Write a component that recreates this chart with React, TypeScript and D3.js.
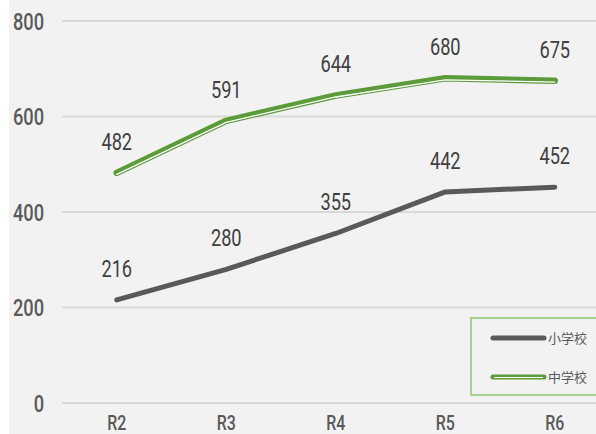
import * as React from "react";
import * as d3 from "d3";

const categories = ["R2", "R3", "R4", "R5", "R6"];
const elementary = [216, 280, 355, 442, 452];
const juniorHigh = [482, 591, 644, 680, 675];
const yTicks = [0, 200, 400, 600, 800];
const seriesNames = ["小学校", "中学校"];

const W = 596;
const H = 434;
const FONT = "Roboto, sans-serif";
const SQUEEZE = 0.76;

// condensed-looking text: squeeze horizontally around its anchor point
function Narrow(props: {
  x: number;
  y: number;
  anchor: string;
  size: number;
  fill: string;
  weight?: number;
  children: React.ReactNode;
}) {
  return (
    <text
      transform={`translate(${props.x},${props.y}) scale(${SQUEEZE},1)`}
      textAnchor={props.anchor}
      fontSize={props.size}
      fill={props.fill}
      fontWeight={props.weight ?? 400}
      fontFamily={FONT}
    >
      {props.children}
    </text>
  );
}

export default function App() {
  const x = d3.scaleBand().domain(categories).range([62, 609.5]);
  const y = d3.scaleLinear().domain([0, 800]).range([403, 21]);
  const cx = (c: string) => x(c)! + x.bandwidth() / 2;

  const line = d3
    .line<number>()
    .x((_, i) => cx(categories[i]))
    .y((d) => y(d));

  const grayPath = line(elementary)!;
  const greenPath = line(juniorHigh)!;

  return (
    <svg width={W} height={H} style={{ position: "absolute", left: 0, top: 0 }}>
      <rect x={0} y={0} width={W} height={H} fill="#ffffff" />
      <rect x={9} y={0} width={W - 9} height={H} fill="#f2f2f2" />

      {/* grid + y axis */}
      {yTicks.map((t) => (
        <g key={t}>
          <line x1={62} x2={W} y1={y(t)} y2={y(t)} stroke="#d9d9d9" strokeWidth={2} />
          <Narrow x={44} y={y(t) + 8.5} anchor="end" size={24} fill="#595959" weight={500}>
            {t}
          </Narrow>
        </g>
      ))}

      {/* x axis labels */}
      {categories.map((c) => (
        <Narrow key={c} x={cx(c)} y={429.5} anchor="middle" size={21} fill="#595959" weight={500}>
          {c}
        </Narrow>
      ))}

      {/* 小学校 */}
      <path d={grayPath} fill="none" stroke="#595959" strokeWidth={5} strokeLinecap="round" strokeLinejoin="round" />

      {/* 中学校 - double line */}
      <path d={greenPath} fill="none" stroke="#5b9b3a" strokeWidth={6.5} strokeLinecap="round" strokeLinejoin="round" />
      <path
        d={greenPath}
        fill="none"
        stroke="#ffffff"
        strokeWidth={1.3}
        strokeLinecap="round"
        strokeLinejoin="round"
        transform="translate(0,1.5)"
      />

      {/* data labels */}
      {elementary.map((v, i) => (
        <Narrow key={"e" + i} x={cx(categories[i])} y={y(v) - 23} anchor="middle" size={24} fill="#404040">
          {v}
        </Narrow>
      ))}
      {juniorHigh.map((v, i) => (
        <Narrow key={"j" + i} x={cx(categories[i])} y={y(v) - 23} anchor="middle" size={24} fill="#404040">
          {v}
        </Narrow>
      ))}

      {/* legend */}
      <rect x={471} y={318} width={140} height={77} fill="#f2f2f2" stroke="#a9d18e" strokeWidth={2} />
      <line x1={493} x2={544} y1={338} y2={338} stroke="#595959" strokeWidth={5} strokeLinecap="round" />
      <line x1={493} x2={544} y1={377} y2={377} stroke="#5b9b3a" strokeWidth={5} strokeLinecap="round" />
      <line x1={494} x2={543} y1={377.5} y2={377.5} stroke="#ffffff" strokeWidth={1.2} />
      <text x={548} y={338} dy="0.35em" fontSize={13} fill="#595959" fontFamily='"Noto Sans CJK JP", sans-serif'>
        {seriesNames[0]}
      </text>
      <text x={548} y={377} dy="0.35em" fontSize={13} fill="#595959" fontFamily='"Noto Sans CJK JP", sans-serif'>
        {seriesNames[1]}
      </text>
    </svg>
  );
}
